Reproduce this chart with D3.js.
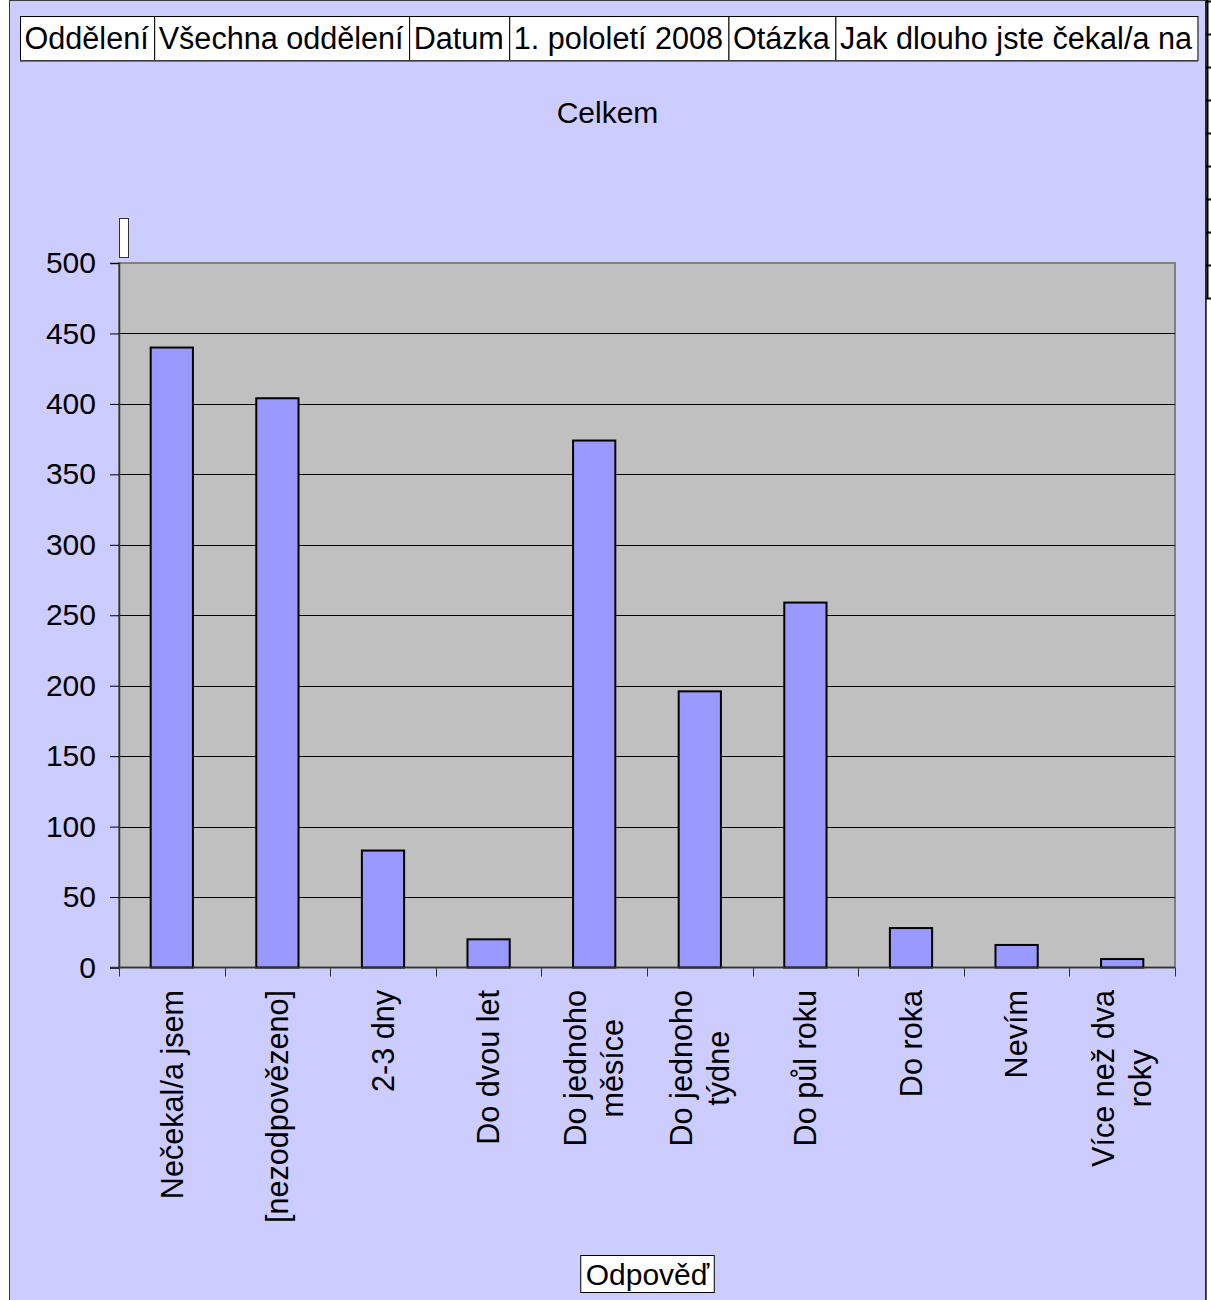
<!DOCTYPE html>
<html>
<head>
<meta charset="utf-8">
<script src="https://cdn.jsdelivr.net/npm/d3@7"></script>
<style>
  html, body { margin: 0; padding: 0; background: #ffffff; }
  svg { display: block; }
  text { font-family: "Liberation Sans", Arial, sans-serif; fill: #000; }
</style>
</head>
<body>
<svg id="chart" width="1211" height="1300"></svg>
<script>
// Survey answers: how long respondents waited
const categories = [
  "Nečekal/a jsem",
  "[nezodpovězeno]",
  "2-3 dny",
  "Do dvou let",
  "Do jednoho\nměsíce",
  "Do jednoho\ntýdne",
  "Do půl roku",
  "Do roka",
  "Nevím",
  "Více než dva\nroky"
];
const values = [440, 404, 83, 20, 374, 196, 259, 28, 16, 6];
const yTicks = [0, 50, 100, 150, 200, 250, 300, 350, 400, 450, 500];
const headerCells = ["Oddělení", "Všechna oddělení", "Datum", "1. pololetí 2008", "Otázka", "Jak dlouho jste čekal/a na"];
const chartTitle = "Celkem";
const xAxisTitle = "Odpověď";

const svg = d3.select("#chart");
const W = 1211, H = 1300;
const FONT = 30;
const LABEL_FONT = 30.6;

// chart frame (light violet page area)
svg.append("rect").attr("x", 9.5).attr("y", 0.5).attr("width", 1196).attr("height", H)
  .attr("fill", "#ccccff").attr("stroke", "#3a3a3a").attr("stroke-width", 1);

// spreadsheet cell edges peeking in at the right
svg.append("line").attr("x1", 1206).attr("x2", 1206).attr("y1", 0).attr("y2", H)
  .attr("stroke", "#222").attr("stroke-width", 1.5);
svg.append("line").attr("x1", 1207.5).attr("x2", 1207.5).attr("y1", 0).attr("y2", 298)
  .attr("stroke", "#000").attr("stroke-width", 2);
svg.append("g").selectAll("line").data(d3.range(10)).join("line")
  .attr("x1", 1206).attr("x2", 1211)
  .attr("y1", i => 1.5 + i * 33).attr("y2", i => 1.5 + i * 33)
  .attr("stroke", "#000").attr("stroke-width", 2);

// header row of info cells, each sized to its text
const header = svg.append("g");
let cx = 20.5;
headerCells.forEach(t => {
  const txt = header.append("text").attr("font-size", LABEL_FONT).text(t);
  const w = txt.node().getComputedTextLength() + 10;
  header.insert("rect", "text").attr("x", cx).attr("y", 16.5).attr("width", w).attr("height", 44)
    .attr("fill", "#fff").attr("stroke", "#000").attr("stroke-width", 1);
  txt.attr("x", cx + 4).attr("y", 49);
  cx += w;
});
header.append("line").attr("x1", 20).attr("x2", cx).attr("y1", 61).attr("y2", 61)
  .attr("stroke", "#555").attr("stroke-width", 1.5);

// title
svg.append("text").attr("x", 607.5).attr("y", 123).attr("text-anchor", "middle")
  .attr("font-size", FONT).text(chartTitle);

// scales
const plot = { left: 119, right: 1175, top: 263, bottom: 967.5 };
const x = d3.scaleBand().domain(categories).range([plot.left, plot.right]).padding(0);
const y = d3.scaleLinear().domain([0, 500]).range([plot.bottom, plot.top]);

// small white marker above the value axis
svg.append("rect").attr("x", 119.5).attr("y", 218.5).attr("width", 9).attr("height", 39)
  .attr("fill", "#fff").attr("stroke", "#333").attr("stroke-width", 1);

// plot background
svg.append("rect").attr("x", plot.left).attr("y", plot.top)
  .attr("width", plot.right - plot.left).attr("height", plot.bottom - plot.top)
  .attr("fill", "#c0c0c0").attr("stroke", "#808080").attr("stroke-width", 2);

// horizontal gridlines
svg.append("g").selectAll("line").data(yTicks.filter(v => v > 0 && v < 500)).join("line")
  .attr("x1", plot.left).attr("x2", plot.right)
  .attr("y1", d => Math.round(y(d)) + 0.5).attr("y2", d => Math.round(y(d)) + 0.5)
  .attr("stroke", "#000").attr("stroke-width", 1);

// value axis
const yAxis = svg.append("g").attr("transform", `translate(${plot.left},0)`)
  .call(d3.axisLeft(y).tickValues(yTicks).tickSize(9).tickPadding(14).tickFormat(d3.format("d")));
yAxis.select(".domain").attr("stroke", "#333").attr("stroke-width", 1.5);
yAxis.selectAll(".tick line").attr("stroke", "#000");
yAxis.selectAll(".tick text").attr("font-size", FONT)
  .attr("font-family", "'Liberation Sans', Arial, sans-serif").attr("fill", "#000");

// bars
const barW = x.bandwidth() * 0.4;
svg.append("g").selectAll("rect").data(values).join("rect")
  .attr("x", (d, i) => x(categories[i]) + (x.bandwidth() - barW) / 2)
  .attr("y", d => y(d))
  .attr("width", barW)
  .attr("height", d => y(0) - y(d))
  .attr("fill", "#9999ff").attr("stroke", "#000").attr("stroke-width", 2);

// category axis line and boundary ticks
svg.append("line").attr("x1", 110).attr("x2", plot.right).attr("y1", plot.bottom).attr("y2", plot.bottom)
  .attr("stroke", "#333").attr("stroke-width", 1.5);
const bounds = categories.map(c => x(c)).concat([plot.right]);
svg.append("g").selectAll("line").data(bounds).join("line")
  .attr("x1", d => Math.round(d) + 0.5).attr("x2", d => Math.round(d) + 0.5)
  .attr("y1", plot.bottom).attr("y2", plot.bottom + 9)
  .attr("stroke", "#333").attr("stroke-width", 1);

// rotated category labels, lines centred on each other, hanging from y=990
const lineGap = 37;
const labels = svg.append("g").selectAll("g").data(categories).join("g")
  .attr("transform", c => `translate(${x(c) + x.bandwidth() / 2},990) rotate(-90)`);
labels.each(function (c) {
  const g = d3.select(this);
  const lines = c.split("\n");
  const texts = lines.map((ln, i) => g.append("text")
    .attr("font-size", LABEL_FONT).attr("text-anchor", "middle")
    .attr("y", (i - (lines.length - 1) / 2) * lineGap).attr("dy", "0.35em").text(ln));
  const maxLen = d3.max(texts, t => t.node().getComputedTextLength());
  texts.forEach(t => t.attr("x", -maxLen / 2));
});

// category axis title in a white box
const tg = svg.append("g");
const tt = tg.append("text").attr("font-size", FONT).attr("text-anchor", "middle")
  .attr("x", 647.5).attr("y", 1285).text(xAxisTitle);
const tw = tt.node().getComputedTextLength() + 10;
tg.insert("rect", "text").attr("x", 647.5 - tw / 2).attr("y", 1255.5).attr("width", tw).attr("height", 37)
  .attr("fill", "#fff").attr("stroke", "#000").attr("stroke-width", 1);
</script>
</body>
</html>
